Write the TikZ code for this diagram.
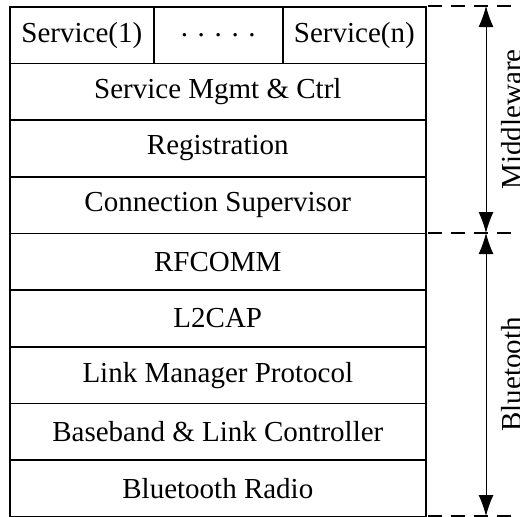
\documentclass[tikz,border=0pt]{standalone}
\usepackage{fontspec}
\setmainfont{Liberation Serif}
\usetikzlibrary{arrows.meta}
\begin{document}
\begin{tikzpicture}[x=1pt,y=-1pt,
  layer/.style={draw,line width=1.6pt,minimum width=416pt,minimum height=56.67pt,inner sep=0pt,anchor=north west,font=\fontsize{29}{34}\selectfont},
  svc/.style={layer,minimum width=#1},
  dim/.style={line width=0.9pt,{Latex[length=21pt,width=15pt]}-{Latex[length=21pt,width=15pt]}},
  guide/.style={line width=1.2pt,dash pattern=on 14pt off 9pt},
  side/.style={rotate=90,anchor=base,inner sep=0pt,font=\fontsize{29}{34}\selectfont}]
\useasboundingbox (0,0) rectangle (520,517);
\node[svc=144pt] (s1) at (9,6) {Service(1)};
\node[svc=129pt] (sd) at (153,6) {. . . . .};
\node[svc=143pt] (sn) at (282,6) {Service(n)};
\node[layer] (mgmt) at (9,62.67) {Service Mgmt \& Ctrl};
\node[layer] (reg) at (9,119.33) {Registration};
\node[layer] (conn) at (9,176) {Connection Supervisor};
\node[layer] (rf) at (9,232.67) {RFCOMM};
\node[layer] (l2) at (9,289.33) {L2CAP};
\node[layer] (lmp) at (9,346) {Link Manager Protocol};
\node[layer] (bb) at (9,402.67) {Baseband \& Link Controller};
\node[layer] (radio) at (9,459.33) {Bluetooth Radio};
\coordinate (g1a) at (428,6);   \coordinate (g1b) at (522,6);
\coordinate (g2a) at (428,233); \coordinate (g2b) at (522,233);
\coordinate (g3a) at (428,516); \coordinate (g3b) at (522,516);
\draw[guide] (g1a) -- (g1b);
\draw[guide] (g2a) -- (g2b);
\draw[guide] (g3a) -- (g3b);
\coordinate (atop) at (486,6);
\coordinate (amid) at (486,233);
\coordinate (abot) at (486,516);
\draw[dim] (atop) -- (amid);
\draw[dim] (amid) -- (abot);
\node[side] (mw) at (521,119.5) {Middleware};
\node[side] (bt) at (521,374.5) {Bluetooth};
\end{tikzpicture}
\end{document}
